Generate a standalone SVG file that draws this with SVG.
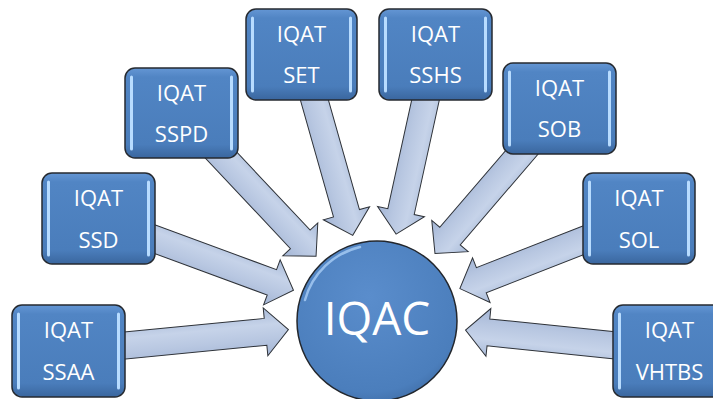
<svg xmlns="http://www.w3.org/2000/svg" width="713" height="399" viewBox="0 0 713 399">
  <defs>
    <linearGradient id="boxFill" x1="0" y1="0" x2="0" y2="1">
      <stop offset="0" stop-color="#6496d4"/>
      <stop offset="0.1" stop-color="#5185c4"/>
      <stop offset="0.85" stop-color="#4a7dbb"/>
      <stop offset="1" stop-color="#3a669e"/>
    </linearGradient>
    <radialGradient id="circFill" cx="0.45" cy="0.35" r="0.7">
      <stop offset="0" stop-color="#5a8dcc"/>
      <stop offset="0.85" stop-color="#4b7ebc"/>
      <stop offset="1" stop-color="#3f6da6"/>
    </radialGradient>
    <linearGradient id="arrowFill" gradientUnits="userSpaceOnUse" x1="0" y1="-24" x2="0" y2="24">
      <stop offset="0" stop-color="#a9bbd9"/>
      <stop offset="0.35" stop-color="#c6d3e9"/>
      <stop offset="0.65" stop-color="#b8c7e1"/>
      <stop offset="1" stop-color="#a3b5d5"/>
    </linearGradient>
  </defs>
  <style>
    .box { fill: url(#boxFill); stroke: #262a30; stroke-width: 1.5; }
    .hl { stroke: #b8dcff; stroke-width: 3; stroke-linecap: round; fill: none; }
    .lbl { font-family: "Open Sans", "Liberation Sans", sans-serif; font-size: 22px; fill: #ffffff; text-anchor: middle; }
    .arrow { fill: url(#arrowFill); stroke: #2e3238; stroke-width: 1; stroke-linejoin: miter; }
    .gloss { fill: none; stroke: #ffffff; stroke-width: 2; stroke-linecap: round; opacity: 0.75; }
  </style>

  <g id="connectors">
    <path class="arrow" transform="translate(68.5,351) rotate(-5.55)" d="M0,-13.5 L197.96,-13.5 L197.96,-24 L220.96,0 L197.96,24 L197.96,13.5 L0,13.5 Z"/>
    <path class="arrow" transform="translate(98.5,218.5) rotate(20.21)" d="M0,-13.5 L184.76,-13.5 L184.76,-24 L207.76,0 L184.76,24 L184.76,13.5 L0,13.5 Z"/>
    <path class="arrow" transform="translate(181.5,113) rotate(46.77)" d="M0,-13.5 L173.45,-13.5 L173.45,-24 L196.45,0 L173.45,24 L173.45,13.5 L0,13.5 Z"/>
    <path class="arrow" transform="translate(301.5,54.5) rotate(74.18)" d="M0,-13.5 L164.99,-13.5 L164.99,-24 L187.99,0 L164.99,24 L164.99,13.5 L0,13.5 Z"/>
    <path class="arrow" transform="translate(435.5,54.5) rotate(102.38)" d="M0,-13.5 L160.84,-13.5 L160.84,-24 L183.84,0 L160.84,24 L160.84,13.5 L0,13.5 Z"/>
    <path class="arrow" transform="translate(559.5,108.5) rotate(130.66)" d="M0,-13.5 L168.11,-13.5 L168.11,-24 L191.11,0 L168.11,24 L168.11,13.5 L0,13.5 Z"/>
    <path class="arrow" transform="translate(639,218.5) rotate(158.63)" d="M0,-13.5 L169.34,-13.5 L169.34,-24 L192.34,0 L169.34,24 L169.34,13.5 L0,13.5 Z"/>
    <path class="arrow" transform="translate(669.5,351) rotate(185.86)" d="M0,-13.5 L182.04,-13.5 L182.04,-24 L205.04,0 L182.04,24 L182.04,13.5 L0,13.5 Z"/>
  </g>

  <g id="node-iqac">
    <circle cx="377" cy="321" r="80" fill="url(#circFill)" stroke="#23272d" stroke-width="1.5"/>
    <path d="M305,300 A75,75 0 0 1 360,247" fill="none" stroke="#a9cdf5" stroke-width="2.5" stroke-linecap="round" opacity="0.8"/>
    <text x="377" y="335" font-family="'Open Sans', 'Liberation Sans', sans-serif" font-size="46" fill="#ffffff" text-anchor="middle">IQAC</text>
  </g>

  <g id="node-ssaa">
    <rect class="box" x="12" y="305" width="113" height="92" rx="10"/>
    <line class="hl" x1="18.5" y1="314" x2="18.5" y2="388"/>
    <line class="hl" x1="118.5" y1="314" x2="118.5" y2="388"/>
    <text class="lbl" x="68.5" y="338">IQAT</text>
    <text class="lbl" x="68.5" y="380">SSAA</text>
  </g>

  <g id="node-ssd">
    <rect class="box" x="42" y="173" width="113" height="91" rx="10"/>
    <line class="hl" x1="48.5" y1="182" x2="48.5" y2="255"/>
    <line class="hl" x1="148.5" y1="182" x2="148.5" y2="255"/>
    <text class="lbl" x="98.5" y="206">IQAT</text>
    <text class="lbl" x="98.5" y="248">SSD</text>
  </g>

  <g id="node-sspd">
    <rect class="box" x="125" y="68" width="113" height="90" rx="10"/>
    <line class="hl" x1="131.5" y1="77" x2="131.5" y2="149"/>
    <line class="hl" x1="231.5" y1="77" x2="231.5" y2="149"/>
    <text class="lbl" x="181.5" y="101">IQAT</text>
    <text class="lbl" x="181.5" y="142">SSPD</text>
  </g>

  <g id="node-set">
    <rect class="box" x="246" y="9" width="111" height="91" rx="10"/>
    <line class="hl" x1="252.5" y1="18" x2="252.5" y2="91"/>
    <line class="hl" x1="350.5" y1="18" x2="350.5" y2="91"/>
    <text class="lbl" x="301.5" y="42">IQAT</text>
    <text class="lbl" x="301.5" y="83">SET</text>
  </g>

  <g id="node-sshs">
    <rect class="box" x="379" y="9" width="113" height="91" rx="10"/>
    <line class="hl" x1="385.5" y1="18" x2="385.5" y2="91"/>
    <line class="hl" x1="485.5" y1="18" x2="485.5" y2="91"/>
    <text class="lbl" x="435.5" y="42">IQAT</text>
    <text class="lbl" x="435.5" y="83">SSHS</text>
  </g>

  <g id="node-sob">
    <rect class="box" x="503" y="63" width="113" height="91" rx="10"/>
    <line class="hl" x1="509.5" y1="72" x2="509.5" y2="145"/>
    <line class="hl" x1="609.5" y1="72" x2="609.5" y2="145"/>
    <text class="lbl" x="559.5" y="96">IQAT</text>
    <text class="lbl" x="559.5" y="137">SOB</text>
  </g>

  <g id="node-sol">
    <rect class="box" x="583" y="173" width="112" height="91" rx="10"/>
    <line class="hl" x1="589.5" y1="182" x2="589.5" y2="255"/>
    <line class="hl" x1="688.5" y1="182" x2="688.5" y2="255"/>
    <text class="lbl" x="639" y="206">IQAT</text>
    <text class="lbl" x="639" y="248">SOL</text>
  </g>

  <g id="node-vhtbs">
    <rect class="box" x="613" y="305" width="113" height="92" rx="10"/>
    <line class="hl" x1="619.5" y1="314" x2="619.5" y2="388"/>
    <text class="lbl" x="669.5" y="338">IQAT</text>
    <text class="lbl" x="669.5" y="380">VHTBS</text>
  </g>
</svg>
